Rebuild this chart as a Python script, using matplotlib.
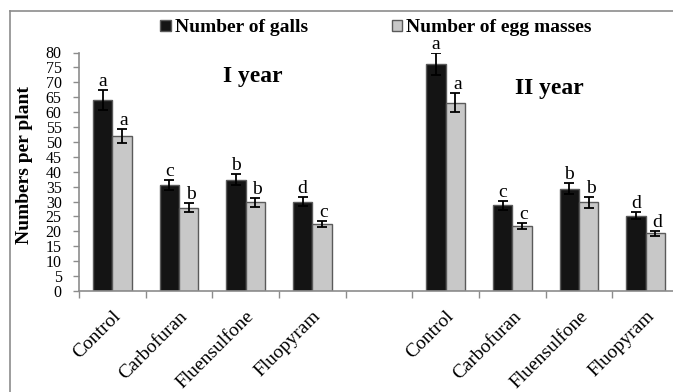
import numpy as np
import matplotlib
matplotlib.use("Agg")
import matplotlib.pyplot as plt
from matplotlib.patches import Rectangle
from matplotlib.lines import Line2D

plt.rcParams['font.family'] = ['Liberation Serif', 'DejaVu Serif']

# treatments per season, one blank slot between the two years
treatments = ["Control", "Carbofuran", "Fluensulfone", "Fluopyram"]
slot_labels = treatments + [""] + treatments

galls_y1 = [64.0, 35.7, 37.4, 30.0]
galls_y1_err = [3.3, 1.7, 1.7, 1.4]
eggs_y1 = [52.0, 28.0, 29.8, 22.4]
eggs_y1_err = [2.5, 1.5, 1.5, 1.1]
galls_y1_lbl = ["a", "c", "b", "d"]
eggs_y1_lbl = ["a", "b", "b", "c"]

galls_y2 = [76.2, 28.7, 34.3, 25.2]
galls_y2_err = [3.7, 1.4, 1.9, 1.2]
eggs_y2 = [63.2, 21.7, 29.7, 19.3]
eggs_y2_err = [3.2, 1.0, 1.7, 0.8]
galls_y2_lbl = ["a", "c", "b", "d"]
eggs_y2_lbl = ["a", "c", "b", "d"]

yticks = np.arange(0, 81, 5)

fig = plt.figure(figsize=(6.73, 3.92), dpi=100)
# chart-area border (left and top edges only inside the canvas)
frame_x = 10 / 673
frame_y = 1 - 11 / 392
fig.add_artist(Line2D([frame_x, frame_x], [-0.01, frame_y], transform=fig.transFigure,
                      color="#8c8c8c", lw=1.2))
fig.add_artist(Line2D([frame_x, 1.01], [frame_y, frame_y], transform=fig.transFigure,
                      color="#8c8c8c", lw=1.2))

ax = fig.add_axes([79 / 673, 101 / 392, 600 / 673, 238.5 / 392])

pos_y1 = np.arange(4) + 0.5
pos_y2 = np.arange(4) + 5.5
w = 0.29
black = "#141414"
grey = "#c8c8c8"
edge = "#5a5a5a"
ekw = dict(ecolor="black", elinewidth=1.3, capsize=3.5, capthick=1.3)

for pos, g, ge, e, ee, gl, el in [
        (pos_y1, galls_y1, galls_y1_err, eggs_y1, eggs_y1_err, galls_y1_lbl, eggs_y1_lbl),
        (pos_y2, galls_y2, galls_y2_err, eggs_y2, eggs_y2_err, galls_y2_lbl, eggs_y2_lbl)]:
    ax.bar(pos - w / 2, g, w, yerr=ge, color=black, edgecolor=edge, lw=1, error_kw=ekw)
    ax.bar(pos + w / 2, e, w, yerr=ee, color=grey, edgecolor=edge, lw=1, error_kw=ekw)
    for x, v, err, t in zip(pos - w / 2, g, ge, gl):
        ax.text(x, v + err, t, ha="center", va="bottom", fontsize=14)
    for x, v, err, t in zip(pos + w / 2, e, ee, el):
        ax.text(x + 0.03, v + err, t, ha="center", va="bottom", fontsize=14)

ax.set_xlim(0, 9)
ax.set_ylim(0, 80)
ax.set_yticks(yticks)
ax.tick_params(axis="y", labelsize=11.5, length=4.5, width=1, color="#8c8c8c", pad=8)
ax.set_xticks(np.arange(0, 10), minor=True)
ax.set_xticks(np.arange(9) + 0.5)
ax.set_xticklabels(slot_labels, rotation=45, ha="right", va="top",
                   rotation_mode="anchor", fontsize=14)
ax.tick_params(axis="x", which="major", length=0, pad=12)
ax.tick_params(axis="x", which="minor", length=5, width=1, color="#8c8c8c")
for s in ["top", "right"]:
    ax.spines[s].set_visible(False)
for s in ["left", "bottom"]:
    ax.spines[s].set_color("#8c8c8c")
    ax.spines[s].set_linewidth(1.2)

ax.set_ylabel("Numbers per plant", fontsize=14, fontweight="bold")
ax.yaxis.set_label_coords(-0.077, 0.527)

ax.text(2.6, 72, "I year", ha="center", va="center", fontsize=17, fontweight="bold")
ax.text(7.05, 68, "II year", ha="center", va="center", fontsize=17, fontweight="bold")

handles = [Rectangle((0, 0), 1, 1, facecolor=black, edgecolor=edge),
           Rectangle((0, 0), 1, 1, facecolor=grey, edgecolor=edge)]
fig.legend(handles, ["Number of galls", "Number of egg masses"], ncol=2,
           loc="center", bbox_to_anchor=(376 / 673, 1 - 28 / 392), frameon=False,
           prop={"size": 14, "weight": "bold"}, handlelength=0.55, handleheight=0.55,
           handletextpad=0.2, columnspacing=4.3, borderpad=0)

fig.savefig("out.png", dpi=100)
